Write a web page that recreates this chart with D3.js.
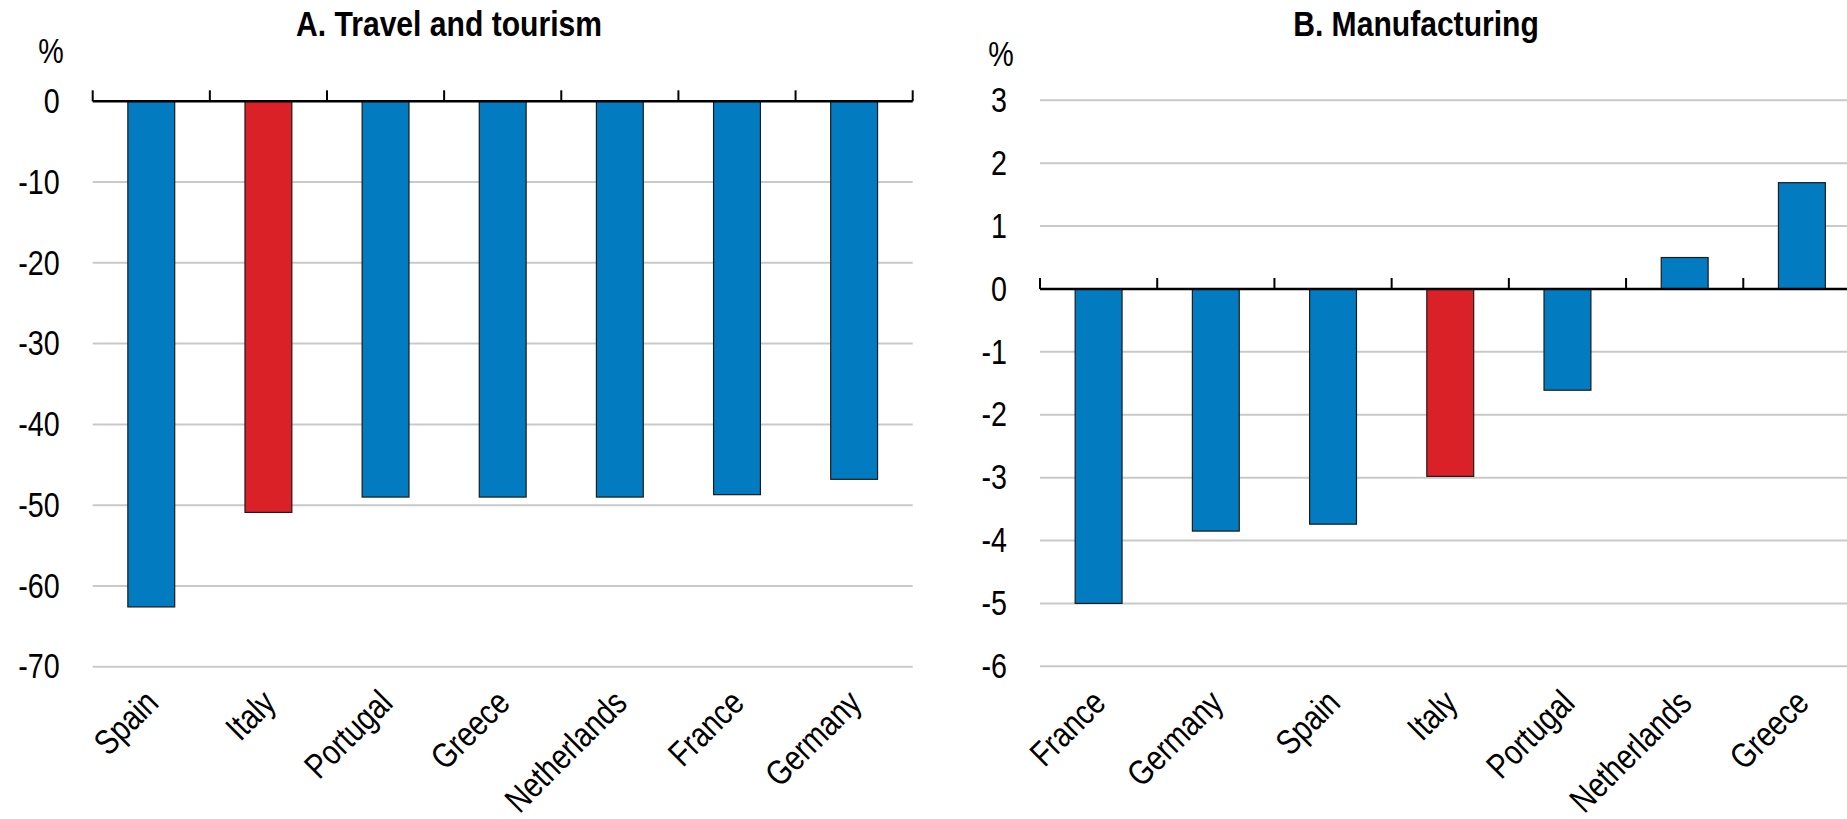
<!DOCTYPE html>
<html>
<head>
<meta charset="utf-8">
<script src="https://cdn.jsdelivr.net/npm/d3@7"></script>
<style>
  html, body { margin: 0; padding: 0; background: #fff; overflow: hidden; }
  svg { display: block; }
  text { font-family: "Liberation Sans", Arial, sans-serif; fill: #000; }
</style>
</head>
<body>
<svg id="chart" width="1847" height="819"></svg>
<script>
// ---- Data ----
const titleA = "A. Travel and tourism";
const categoriesA = ["Spain", "Italy", "Portugal", "Greece", "Netherlands", "France", "Germany"];
const valuesA = [-62.6, -50.9, -49.0, -49.0, -49.0, -48.7, -46.8];
const ticksA = [0, -10, -20, -30, -40, -50, -60, -70];

const titleB = "B. Manufacturing";
const categoriesB = ["France", "Germany", "Spain", "Italy", "Portugal", "Netherlands", "Greece"];
const valuesB = [-5.0, -3.85, -3.74, -2.98, -1.61, 0.5, 1.69];
const ticksB = [3, 2, 1, 0, -1, -2, -3, -4, -5, -6];

const highlight = "Italy";
const unitLabel = "%";

// ---- Styles ----
const BLUE = "#037bc1", RED = "#da2128", GRID = "#c9c9c9";
const NARROW = 0.82;       // emulate Arial Narrow by horizontal compression
const NARROW_BOLD = 0.86;
const svg = d3.select("#chart");

function panel(opts) {
  const { cats, vals, ticks, domain, x0, x1, top, bottom, title, titleX, pctX, pctY } = opts;
  const g = svg.append("g");
  const x = d3.scaleBand().domain(cats).range([x0, x1]).paddingInner(0.6).paddingOuter(0.3);
  const y = d3.scaleLinear().domain(domain).range([top, bottom]);
  const step = x.step();

  // gridlines
  g.selectAll("line.grid").data(ticks.filter(t => t !== 0)).join("line")
    .attr("class", "grid")
    .attr("x1", x0).attr("x2", x1)
    .attr("y1", d => y(d)).attr("y2", d => y(d))
    .attr("stroke", GRID).attr("stroke-width", 2);

  // bars
  g.selectAll("rect.bar").data(cats).join("rect")
    .attr("class", "bar")
    .attr("x", d => x(d))
    .attr("width", x.bandwidth())
    .attr("y", (d, i) => Math.min(y(0), y(vals[i])))
    .attr("height", (d, i) => Math.abs(y(vals[i]) - y(0)))
    .attr("fill", d => d === highlight ? RED : BLUE)
    .attr("stroke", "#1b1b1b").attr("stroke-width", 1.2);

  // zero axis line
  g.append("line")
    .attr("x1", x0).attr("x2", x1)
    .attr("y1", y(0)).attr("y2", y(0))
    .attr("stroke", "#000").attr("stroke-width", 2.5);

  // category boundary ticks (upward)
  const bounds = cats.map(c => x(c) - step * 0.3).concat([x1]);
  g.selectAll("line.tk").data(bounds).join("line")
    .attr("class", "tk")
    .attr("x1", d => d).attr("x2", d => d)
    .attr("y1", y(0)).attr("y2", y(0) - 11)
    .attr("stroke", "#000").attr("stroke-width", 2);

  // y axis labels
  const yAxis = d3.axisLeft(y).tickValues(ticks).tickSize(0).tickPadding(33)
    .tickFormat(d => String(d));
  const ya = g.append("g").attr("transform", `translate(${x0},0)`).call(yAxis);
  ya.select(".domain").remove();
  ya.selectAll(".tick text")
    .attr("x", 0)
    .attr("transform", `translate(-33,0) scale(${NARROW},1)`)
    .attr("fill", "#000")
    .style("font-size", "35px")
    .style("font-family", '"Liberation Sans", Arial, sans-serif');

  // category labels
  g.selectAll("text.cat").data(cats).join("text")
    .attr("class", "cat")
    .attr("text-anchor", "end")
    .attr("transform", d => `translate(${x(d) + x.bandwidth() / 2 + 9},705) rotate(-45) scale(${NARROW},1)`)
    .style("font-size", "35px")
    .text(d => d);

  // title
  g.append("text")
    .attr("transform", `translate(${titleX},36) scale(${NARROW_BOLD},1)`)
    .attr("text-anchor", "middle")
    .style("font-size", "35px").style("font-weight", "bold")
    .text(title);

  // unit
  g.append("text")
    .attr("transform", `translate(${pctX},${pctY}) scale(${NARROW},1)`)
    .attr("text-anchor", "middle")
    .style("font-size", "35px")
    .text(unitLabel);
}

panel({ cats: categoriesA, vals: valuesA, ticks: ticksA, domain: [0, -70],
  x0: 92.7, x1: 912.7, top: 101.3, bottom: 666.7, title: titleA, titleX: 449, pctX: 51, pctY: 63 });
panel({ cats: categoriesB, vals: valuesB, ticks: ticksB, domain: [3, -6],
  x0: 1040, x1: 1860.5, top: 100.3, bottom: 666.3, title: titleB, titleX: 1416, pctX: 1001, pctY: 66 });
</script>
</body>
</html>
